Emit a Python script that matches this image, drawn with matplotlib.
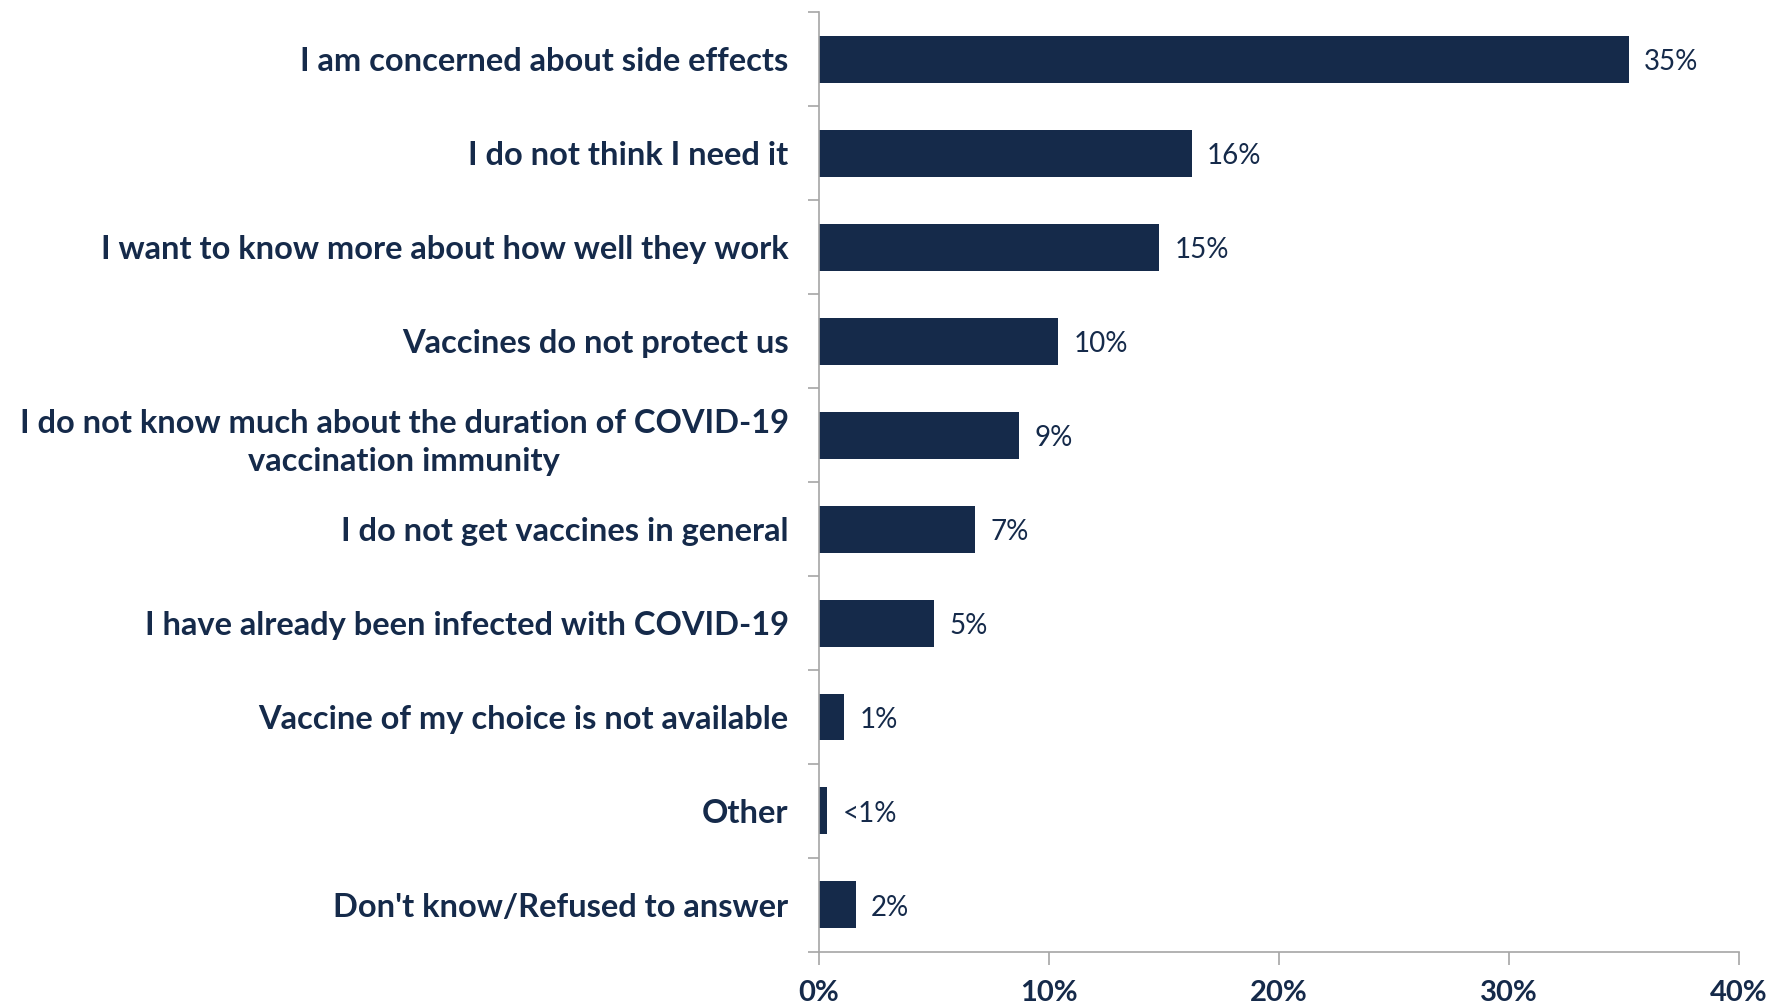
import numpy as np
import matplotlib.pyplot as plt

reasons = [
    "I am concerned about side effects",
    "I do not think I need it",
    "I want to know more about how well they work",
    "Vaccines do not protect us",
    "I do not know much about the duration of COVID-19\nvaccination immunity",
    "I do not get vaccines in general",
    "I have already been infected with COVID-19",
    "Vaccine of my choice is not available",
    "Other",
    "Don't know/Refused to answer",
]
shares = [35.2, 16.2, 14.8, 10.4, 8.7, 6.8, 5.0, 1.1, 0.35, 1.6]
value_labels = ["35%", "16%", "15%", "10%", "9%", "7%", "5%", "1%", "<1%", "2%"]
xticks = [0, 10, 20, 30, 40]

navy = "#152a4a"
grey = "#a6a6a6"
plt.rcParams['font.family'] = ['Lato', 'DejaVu Sans']

fig = plt.figure(figsize=(17.86, 10.06), dpi=100)
ax = fig.add_axes([0.4586, 0.0537, 0.5151, 0.9343])

y = np.arange(len(reasons))
ax.barh(y, shares, height=0.5, color=navy)
for yi, v, lab in zip(y, shares, value_labels):
    ax.annotate(lab, (v, yi), xytext=(11, -2), textcoords="offset points",
                va="center", ha="left", fontsize=20, color=navy)

ax.set_ylim(len(reasons) - 0.5, -0.5)
ax.set_xlim(0, 40)
ax.set_yticks(y)
ax.set_yticklabels(reasons, fontsize=23.5, fontweight="bold", color=navy,
                   multialignment="center", linespacing=1.4)
ax.set_yticks(np.arange(len(reasons) + 1) - 0.5, minor=True)
ax.tick_params(axis="y", which="major", length=0, pad=22)
ax.tick_params(axis="y", which="minor", length=8, color=grey, width=1.2)
ax.set_xticks(xticks)
ax.set_xticklabels([f"{t}%" for t in xticks], fontsize=21, fontweight="bold", color=navy)
ax.tick_params(axis="x", length=9, color=grey, width=1.2, pad=11)

for s in ["top", "right"]:
    ax.spines[s].set_visible(False)
for s in ["left", "bottom"]:
    ax.spines[s].set_color(grey)
    ax.spines[s].set_linewidth(1.2)

fig.savefig("out.png", dpi=100)
